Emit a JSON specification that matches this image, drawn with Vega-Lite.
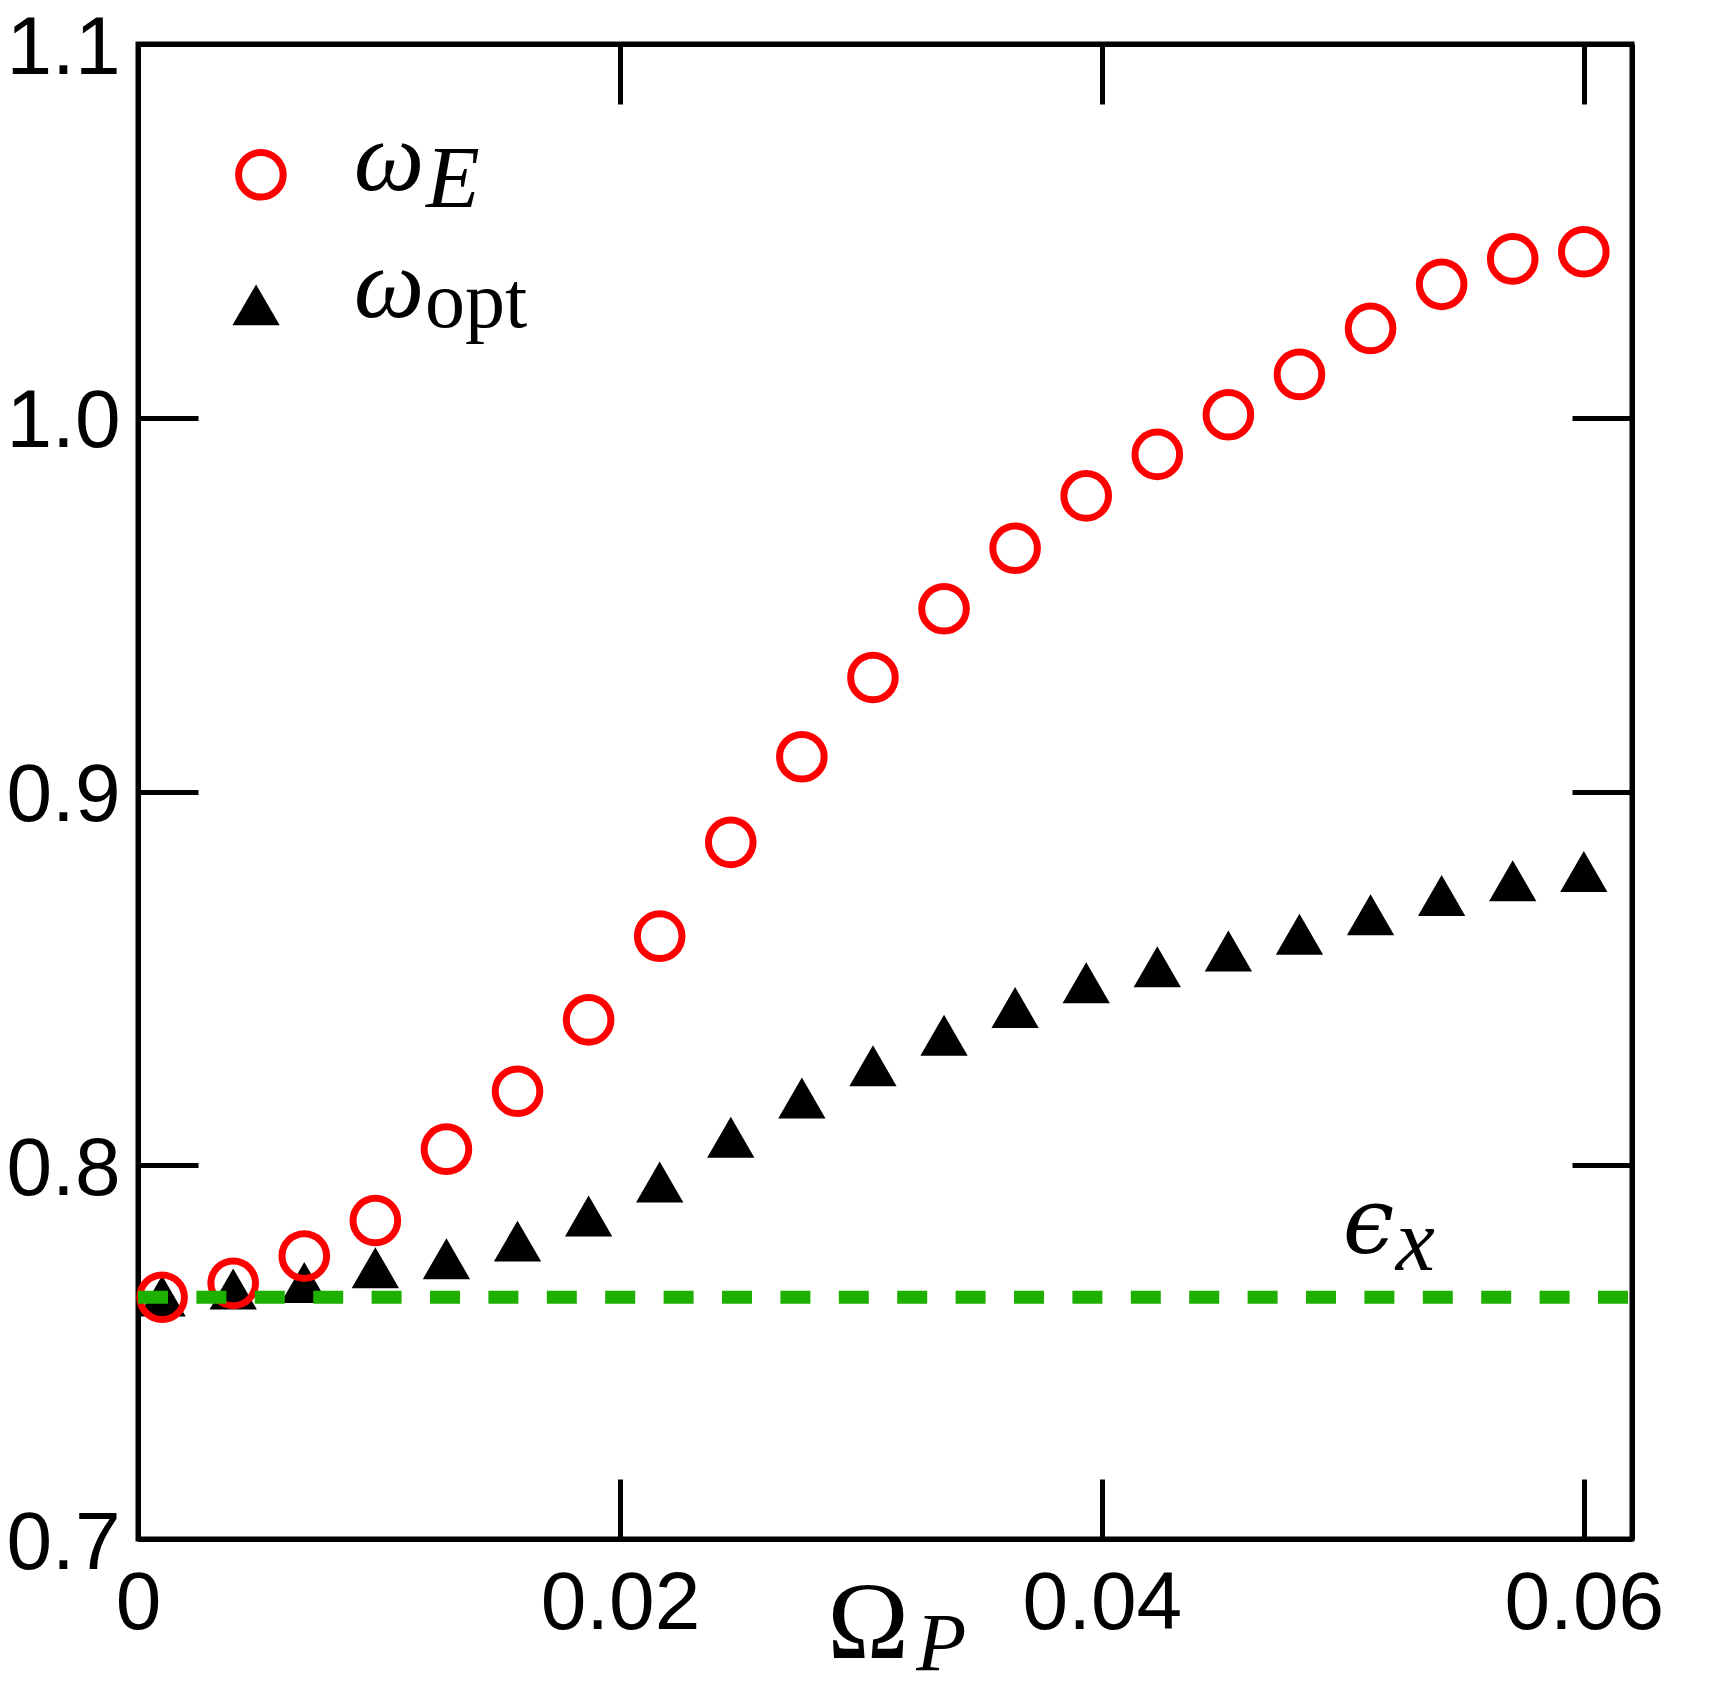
{
  "$schema": "https://vega.github.io/schema/vega-lite/v6.json",
  "width": 1494,
  "height": 1495,
  "autosize": {"type": "none"},
  "padding": {"left": 138, "top": 44, "right": 77, "bottom": 149},
  "background": "white",
  "config": {
    "view": {"stroke": "black", "strokeWidth": 5},
    "axis": {
      "domainColor": "black",
      "domainWidth": 5,
      "tickColor": "black",
      "tickWidth": 5,
      "tickSize": -60,
      "grid": false,
      "labelFont": "Liberation Sans",
      "labelFontSize": 82,
      "labelColor": "black",
      "labelFlush": false,
      "labelOverlap": false
    }
  },
  "datasets": {
    "series": [
      {"Omega_P": 0.001, "series": "omega_E", "value": 0.7647},
      {"Omega_P": 0.00395, "series": "omega_E", "value": 0.7684},
      {"Omega_P": 0.0069, "series": "omega_E", "value": 0.7757},
      {"Omega_P": 0.00985, "series": "omega_E", "value": 0.7852},
      {"Omega_P": 0.0128, "series": "omega_E", "value": 0.8043},
      {"Omega_P": 0.01575, "series": "omega_E", "value": 0.8198},
      {"Omega_P": 0.0187, "series": "omega_E", "value": 0.8389},
      {"Omega_P": 0.02165, "series": "omega_E", "value": 0.8613},
      {"Omega_P": 0.0246, "series": "omega_E", "value": 0.8864},
      {"Omega_P": 0.02755, "series": "omega_E", "value": 0.9093},
      {"Omega_P": 0.0305, "series": "omega_E", "value": 0.9305},
      {"Omega_P": 0.03345, "series": "omega_E", "value": 0.9489},
      {"Omega_P": 0.0364, "series": "omega_E", "value": 0.9651},
      {"Omega_P": 0.03935, "series": "omega_E", "value": 0.9791},
      {"Omega_P": 0.0423, "series": "omega_E", "value": 0.9902},
      {"Omega_P": 0.04525, "series": "omega_E", "value": 1.0008},
      {"Omega_P": 0.0482, "series": "omega_E", "value": 1.0116},
      {"Omega_P": 0.05115, "series": "omega_E", "value": 1.0239},
      {"Omega_P": 0.0541, "series": "omega_E", "value": 1.0357},
      {"Omega_P": 0.05705, "series": "omega_E", "value": 1.0425},
      {"Omega_P": 0.06, "series": "omega_E", "value": 1.0444},
      {"Omega_P": 0.001, "series": "omega_opt", "value": 0.765},
      {"Omega_P": 0.00395, "series": "omega_opt", "value": 0.7669},
      {"Omega_P": 0.0069, "series": "omega_opt", "value": 0.7686},
      {"Omega_P": 0.00985, "series": "omega_opt", "value": 0.7726},
      {"Omega_P": 0.0128, "series": "omega_opt", "value": 0.775},
      {"Omega_P": 0.01575, "series": "omega_opt", "value": 0.7797},
      {"Omega_P": 0.0187, "series": "omega_opt", "value": 0.7864},
      {"Omega_P": 0.02165, "series": "omega_opt", "value": 0.7955},
      {"Omega_P": 0.0246, "series": "omega_opt", "value": 0.8075},
      {"Omega_P": 0.02755, "series": "omega_opt", "value": 0.818},
      {"Omega_P": 0.0305, "series": "omega_opt", "value": 0.8266},
      {"Omega_P": 0.03345, "series": "omega_opt", "value": 0.8348},
      {"Omega_P": 0.0364, "series": "omega_opt", "value": 0.8422},
      {"Omega_P": 0.03935, "series": "omega_opt", "value": 0.8488},
      {"Omega_P": 0.0423, "series": "omega_opt", "value": 0.8531},
      {"Omega_P": 0.04525, "series": "omega_opt", "value": 0.8573},
      {"Omega_P": 0.0482, "series": "omega_opt", "value": 0.8618},
      {"Omega_P": 0.05115, "series": "omega_opt", "value": 0.867},
      {"Omega_P": 0.0541, "series": "omega_opt", "value": 0.8722},
      {"Omega_P": 0.05705, "series": "omega_opt", "value": 0.8761},
      {"Omega_P": 0.06, "series": "omega_opt", "value": 0.8786}
    ],
    "single": [{}]
  },
  "resolve": {"axis": {"x": "independent", "y": "independent"}},
  "layer": [
    {
      "data": {"name": "series"},
      "transform": [{"filter": "datum.series === 'omega_opt'"}],
      "mark": {"type": "point", "shape": "triangle-up", "filled": true, "color": "black", "size": 2240, "strokeWidth": 0, "opacity": 1},
      "encoding": {
        "x": {"field": "Omega_P", "type": "quantitative",
              "scale": {"domain": [0, 0.062], "nice": false, "zero": false},
              "axis": {"orient": "top", "labels": false, "title": null, "values": [0.02, 0.04, 0.06]}},
        "y": {"field": "value", "type": "quantitative",
              "scale": {"domain": [0.7, 1.1], "nice": false, "zero": false},
              "axis": {"orient": "right", "labels": false, "title": null, "values": [0.8, 0.9, 1.0]}}
      }
    },
    {
      "data": {"name": "series"},
      "transform": [{"filter": "datum.series === 'omega_E'"}],
      "mark": {"type": "point", "shape": "circle", "filled": false, "stroke": "#ff0000", "strokeWidth": 7, "size": 1990, "opacity": 1},
      "encoding": {
        "x": {"field": "Omega_P", "type": "quantitative",
              "axis": {"orient": "bottom", "title": null, "values": [0, 0.02, 0.04, 0.06], "labelPadding": 84,
                       "labelExpr": "datum.value == 0 ? '0' : format(datum.value, '.2f')"}},
        "y": {"field": "value", "type": "quantitative",
              "axis": {"orient": "left", "title": null, "values": [0.7, 0.8, 0.9, 1.0, 1.1], "format": ".1f", "labelPadding": 78, "labelOffset": 4}}
      }
    },
    {
      "data": {"name": "single"},
      "mark": {"type": "rule", "color": "#1eb000", "strokeWidth": 13, "strokeDash": [30, 28.4]},
      "encoding": {
        "x": {"datum": 0, "type": "quantitative", "axis": null},
        "x2": {"datum": 0.062},
        "y": {"datum": 0.7647, "type": "quantitative", "axis": null}
      }
    },
    {
      "data": {"name": "single"},
      "mark": {"type": "point", "shape": "circle", "filled": false, "stroke": "#ff0000", "strokeWidth": 7, "size": 1990, "opacity": 1},
      "encoding": {
        "x": {"datum": 0.0051, "type": "quantitative", "axis": null},
        "y": {"datum": 1.065, "type": "quantitative", "axis": null}
      }
    },
    {
      "data": {"name": "single"},
      "mark": {"type": "point", "shape": "triangle-up", "filled": true, "color": "black", "size": 2240, "strokeWidth": 0, "opacity": 1},
      "encoding": {
        "x": {"datum": 0.0049, "type": "quantitative", "axis": null},
        "y": {"datum": 1.0302, "type": "quantitative", "axis": null}
      }
    },
    {
      "data": {"name": "single"},
      "mark": {"type": "text", "text": "ω", "font": "Liberation Serif", "fontStyle": "italic", "fontSize": 100, "align": "left", "baseline": "alphabetic", "color": "black"},
      "encoding": {
        "x": {"datum": 0.00895, "type": "quantitative", "axis": null},
        "y": {"datum": 1.0609, "type": "quantitative", "axis": null}
      }
    },
    {
      "data": {"name": "single"},
      "mark": {"type": "text", "text": "E", "font": "Liberation Serif", "fontStyle": "italic", "fontSize": 88, "align": "left", "baseline": "alphabetic", "color": "black"},
      "encoding": {
        "x": {"datum": 0.01195, "type": "quantitative", "axis": null},
        "y": {"datum": 1.0564, "type": "quantitative", "axis": null}
      }
    },
    {
      "data": {"name": "single"},
      "mark": {"type": "text", "text": "ω", "font": "Liberation Serif", "fontStyle": "italic", "fontSize": 100, "align": "left", "baseline": "alphabetic", "color": "black"},
      "encoding": {
        "x": {"datum": 0.00895, "type": "quantitative", "axis": null},
        "y": {"datum": 1.027, "type": "quantitative", "axis": null}
      }
    },
    {
      "data": {"name": "single"},
      "mark": {"type": "text", "text": "opt", "font": "Liberation Serif", "fontSize": 80, "align": "left", "baseline": "alphabetic", "color": "black"},
      "encoding": {
        "x": {"datum": 0.01191, "type": "quantitative", "axis": null},
        "y": {"datum": 1.0243, "type": "quantitative", "axis": null}
      }
    },
    {
      "data": {"name": "single"},
      "mark": {"type": "text", "text": "ϵ", "font": "DejaVu Serif", "fontStyle": "italic", "fontSize": 92, "align": "left", "baseline": "alphabetic", "color": "black"},
      "encoding": {
        "x": {"datum": 0.05, "type": "quantitative", "axis": null},
        "y": {"datum": 0.7765, "type": "quantitative", "axis": null}
      }
    },
    {
      "data": {"name": "single"},
      "mark": {"type": "text", "text": "x", "font": "Liberation Serif", "fontStyle": "italic", "fontSize": 88, "align": "left", "baseline": "alphabetic", "color": "black"},
      "encoding": {
        "x": {"datum": 0.0522, "type": "quantitative", "axis": null},
        "y": {"datum": 0.772, "type": "quantitative", "axis": null}
      }
    },
    {
      "data": {"name": "single"},
      "mark": {"type": "text", "text": "Ω", "font": "Liberation Serif", "fontSize": 110, "align": "left", "baseline": "alphabetic", "color": "black"},
      "encoding": {
        "x": {"datum": 0.0286, "type": "quantitative", "axis": null},
        "y": {"datum": 0.6682, "type": "quantitative", "axis": null}
      }
    },
    {
      "data": {"name": "single"},
      "mark": {"type": "text", "text": "P", "font": "Liberation Serif", "fontStyle": "italic", "fontSize": 82, "align": "left", "baseline": "alphabetic", "color": "black"},
      "encoding": {
        "x": {"datum": 0.0323, "type": "quantitative", "axis": null},
        "y": {"datum": 0.665, "type": "quantitative", "axis": null}
      }
    }
  ]
}
